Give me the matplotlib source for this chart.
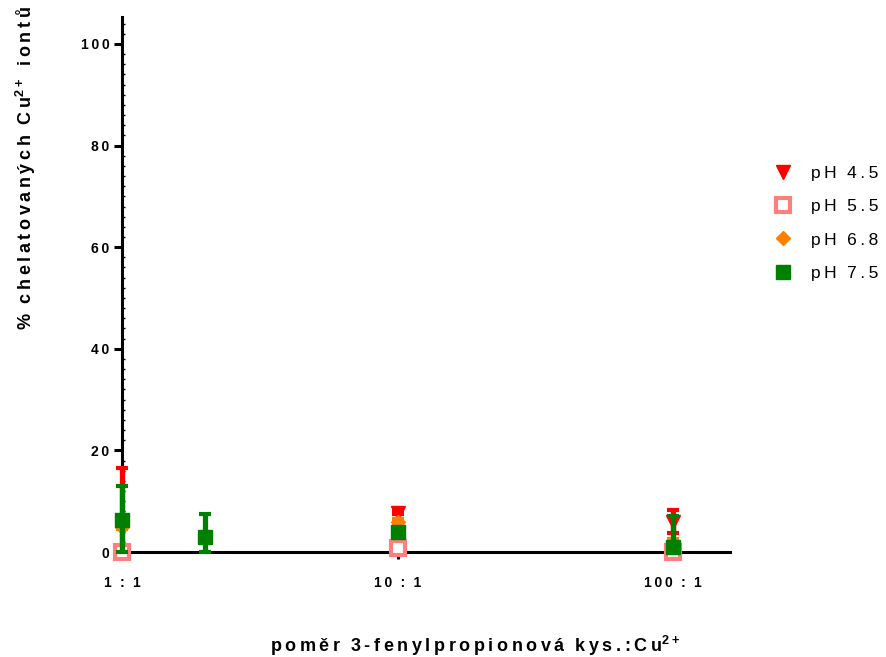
import matplotlib
matplotlib.use('Agg')
import matplotlib.pyplot as plt
from matplotlib.lines import Line2D
import numpy as np

plt.rcParams['font.family'] = ['Liberation Sans', 'DejaVu Sans']
plt.rcParams['font.weight'] = 'bold'
plt.rcParams['mathtext.fontset'] = 'custom'
plt.rcParams['mathtext.bf'] = 'Liberation Sans:bold'
plt.rcParams['mathtext.rm'] = 'Liberation Sans:bold'

# mean % chelated Cu2+ and SD per pH, x = acid : Cu2+ ratio
ph45_x = [1, 10, 100]
ph45_y = [5.0, 7.7, 6.0]
ph45_err = [11.5, 0.3, 2.2]

ph55_x = [1, 10, 100]
ph55_y = [0.0, 0.8, 0.0]
ph55_err = [0.3, 0.3, 0.3]

ph68_x = [1, 10, 100]
ph68_y = [5.0, 6.0, 2.0]
ph68_err = [0.5, 0.5, 0.5]

ph75_x = [1, 2, 10, 100]
ph75_y = [6.3, 3.0, 4.0, 1.0]
ph75_err = [6.7, 4.5, 0.5, 6.0]

tick_pos = [1, 10, 100]
tick_labels = ['1 : 1', '10 : 1', '100 : 1']
ytick_pos = [0, 20, 40, 60, 80, 100]

series = [
    ('pH 4.5', ph45_x, ph45_y, ph45_err, dict(marker='v', color='#ff0000', mfc='#ff0000', mec='#ff0000', ms=10, mew=1)),
    ('pH 5.5', ph55_x, ph55_y, ph55_err, dict(marker='s', color='#ff7f7f', mfc='white', mec='#ff7f7f', ms=10, mew=3)),
    ('pH 6.8', ph68_x, ph68_y, ph68_err, dict(marker='D', color='#ff8000', mfc='#ff8000', mec='#ff8000', ms=7, mew=1)),
    ('pH 7.5', ph75_x, ph75_y, ph75_err, dict(marker='s', color='#008000', mfc='#008000', mec='#008000', ms=10, mew=1)),
]


def spaced(s):
    # wide letter spacing like the original; plain spaces become thin spaces
    out = ''
    for i, c in enumerate(s):
        if c == ' ':
            out += '\u2009\u2009\u2009'
            continue
        out += c
        if i < len(s) - 1 and s[i + 1] != ' ':
            out += '\u2009'
    return out


fig = plt.figure(figsize=(8.86, 6.57), dpi=100)
ax = fig.add_axes([122/886, 1-552/657, (730-122)/886, (552-17)/657])

handles = []
for z, (lab, x, y, e, st) in enumerate(series):
    y = np.array(y)
    e = np.array(e)
    lower = np.minimum(e, y)  # bars stop at the x axis
    _, caps, bars = ax.errorbar(x, y, yerr=[lower, e], fmt='none', ecolor=st['color'],
                                elinewidth=3.8, capsize=4.5, capthick=3, zorder=3 + z, clip_on=False)
    for c in caps:
        c.set_clip_on(False)
    for b in bars:
        b.set_clip_on(False)
    ax.plot(x, y, ls='none', clip_on=False, zorder=3.5 + z, **st)
    handles.append(Line2D([], [], ls='none', label=spaced(lab), **st))

ax.set_xscale('log')
ax.set_xlim(1, 161)
ax.set_ylim(0, 105.3)
ax.set_xticks(tick_pos)
ax.set_xticklabels([spaced(t) for t in tick_labels], fontsize=10, fontweight='bold')
ax.xaxis.set_minor_locator(matplotlib.ticker.NullLocator())
ax.set_yticks(ytick_pos)
ax.set_yticklabels([spaced(str(v)) for v in ytick_pos], fontsize=10, fontweight='bold')
ax.yaxis.set_minor_locator(matplotlib.ticker.MultipleLocator(2))

for s in ['top', 'right']:
    ax.spines[s].set_visible(False)
for s in ['left', 'bottom']:
    ax.spines[s].set_linewidth(2.2)
    ax.spines[s].set_zorder(1)
ax.tick_params(axis='y', which='major', length=6, width=2.2, pad=3)
ax.tick_params(axis='y', which='minor', length=2, width=1, direction='in')
ax.tick_params(axis='x', which='major', length=5, width=2.2, pad=12)

ax.set_xlabel(spaced('poměr 3-fenylpropionová kys.:Cu') + r'$^{\mathbf{2+}}$', fontsize=13, fontweight='bold')
ax.xaxis.set_label_coords((475-122)/608, (552-634)/535)
ax.set_ylabel(spaced('% chelatovaných Cu') + r'$^{\mathbf{2+}}$' + spaced(' iontů'), fontsize=13, fontweight='bold')
ax.yaxis.set_label_coords((38-122)/608, (552-168)/535)

leg = fig.legend(handles=handles, loc='upper left', bbox_to_anchor=(757/886, 1-150/657), frameon=False,
                 fontsize=12.5, labelspacing=1.05, handletextpad=1.0, handlelength=1.2)
for t in leg.get_texts():
    t.set_fontweight('normal')

fig.savefig('out.png', dpi=100)
